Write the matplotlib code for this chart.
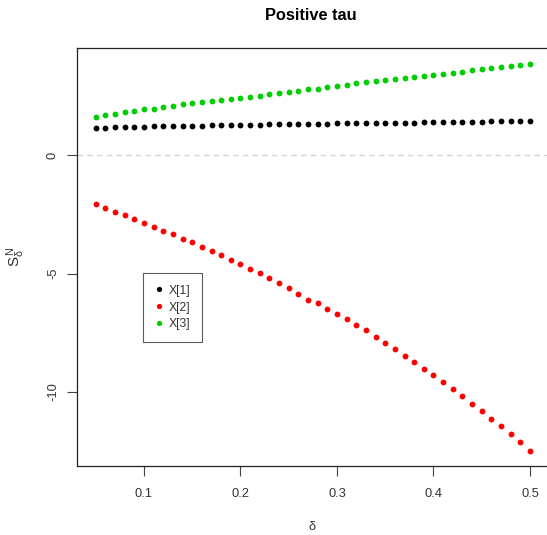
import matplotlib
matplotlib.use("Agg")
import matplotlib.pyplot as plt

plt.rcParams['font.family'] = ['Liberation Sans', 'DejaVu Sans']
plt.rcParams['mathtext.fontset'] = 'custom'
plt.rcParams['mathtext.rm'] = 'Liberation Sans'
plt.rcParams['mathtext.it'] = 'Liberation Sans'

# delta grid 0.05 .. 0.50 (step 0.01)
delta = [round(0.05 + 0.01 * i, 2) for i in range(46)]

x1 = [1.15, 1.16, 1.17, 1.18, 1.19, 1.20, 1.21, 1.22, 1.225, 1.23,
      1.24, 1.245, 1.25, 1.26, 1.265, 1.27, 1.28, 1.285, 1.29, 1.295,
      1.30, 1.31, 1.315, 1.32, 1.325, 1.33, 1.335, 1.34, 1.345, 1.35,
      1.355, 1.36, 1.365, 1.37, 1.375, 1.38, 1.385, 1.39, 1.395, 1.40,
      1.41, 1.415, 1.42, 1.43, 1.435, 1.44]

x2 = [-2.08, -2.24, -2.39, -2.54, -2.71, -2.87, -3.03, -3.21, -3.35, -3.54,
      -3.68, -3.88, -4.05, -4.23, -4.43, -4.61, -4.80, -4.97, -5.19, -5.41,
      -5.63, -5.87, -6.10, -6.26, -6.49, -6.71, -6.92, -7.19, -7.40, -7.67,
      -7.92, -8.19, -8.47, -8.73, -9.03, -9.28, -9.58, -9.87, -10.17, -10.49,
      -10.79, -11.13, -11.45, -11.77, -12.12, -12.49]

x3 = [1.62, 1.68, 1.74, 1.81, 1.86, 1.93, 1.95, 2.04, 2.08, 2.15,
      2.18, 2.24, 2.28, 2.31, 2.36, 2.41, 2.46, 2.51, 2.56, 2.62,
      2.67, 2.72, 2.77, 2.80, 2.88, 2.93, 2.97, 3.04, 3.08, 3.11,
      3.15, 3.21, 3.25, 3.31, 3.35, 3.39, 3.43, 3.47, 3.52, 3.57,
      3.62, 3.66, 3.70, 3.76, 3.80, 3.84]

series = [("X[1]", x1, "black"), ("X[2]", x2, "#ff0000"), ("X[3]", x3, "#00cd00")]

W, H = 547, 535
fig = plt.figure(figsize=(W / 100, H / 100), dpi=100)
ax = fig.add_axes([77 / W, (H - 466) / H, 472 / W, 418 / H])

for name, vals, col in series:
    ax.plot(delta, vals, 'o', color=col, ms=4.2, mew=0, label=name)

ax.axhline(0, color='#d3d3d3', lw=1, ls=(0, (4, 3)))

ax.set_xlim(0.0306, 0.5197)
ax.set_ylim(-13.12, 4.515)
ax.set_xticks([0.1, 0.2, 0.3, 0.4, 0.5])
ax.set_xticklabels(['0.1', '0.2', '0.3', '0.4', '0.5'])
ax.set_yticks([0, -5, -10])
ax.set_yticklabels(['0', '-5', '-10'], rotation=90, va='center')
ax.tick_params(axis='both', direction='out', length=7, width=0.8,
               color='#444444', labelcolor='#333333', labelsize=9.3)
ax.tick_params(axis='x', pad=9)
ax.tick_params(axis='y', pad=6)
for sp in ax.spines.values():
    sp.set_color('#222222')
    sp.set_linewidth(0.9)

ax.set_xlabel('δ', fontsize=9.3, color='#333333')
ax.xaxis.set_label_coords((312 - 77) / 472, -(521 - 466) / 418)
ax.set_ylabel(r'$S^N_\delta$', fontsize=11, color='#333333')
ax.yaxis.set_label_coords(-(77 - 27) / 472, 0.5)

ax.text((311 - 77) / 472, 1 + (48 - 16) / 418, 'Positive tau', transform=ax.transAxes,
        ha='center', va='center', fontsize=11.8, fontweight='bold')

leg = ax.legend(loc='upper left', bbox_to_anchor=((143 - 77) / 472, (466 - 273) / 418),
                fontsize=8.8, frameon=True, fancybox=False, borderaxespad=0,
                handlelength=0.7, handletextpad=0.45, borderpad=0.95, labelspacing=0.4,
                markerscale=0.9)
leg.get_frame().set_edgecolor('#333333')
leg.get_frame().set_linewidth(0.8)
for t in leg.get_texts():
    t.set_color('#333333')

fig.savefig('out.png', dpi=100)
